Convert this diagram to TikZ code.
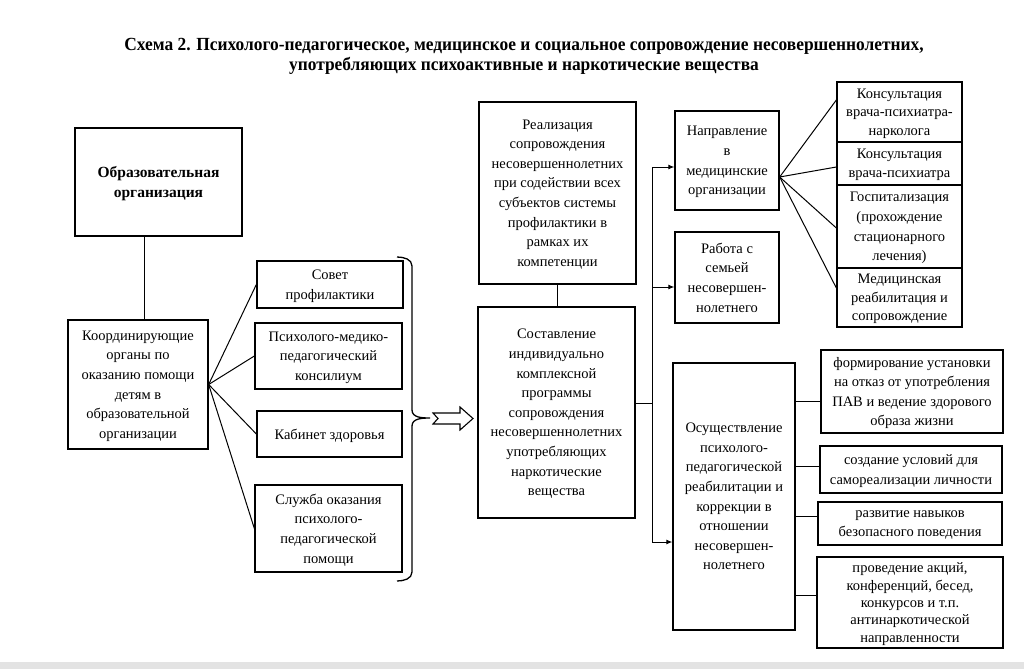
\documentclass[tikz,border=0pt]{standalone}
\usepackage{fontspec}
\setmainfont{Liberation Serif}
\newfontfamily\titlefont[FakeStretch=0.94]{Liberation Serif}
\usetikzlibrary{arrows.meta,calc}
\begin{document}
\begin{tikzpicture}[x=1pt,y=-1pt,
  box/.style={draw, line width=1.3pt, align=center, inner sep=0pt, text depth=-4pt, font=\fontsize{14.5}{19.6}\selectfont},
  link/.style={line width=1pt},
  arr/.style={line width=1pt,-{Latex[length=6pt,width=5pt]}}]
\fill[white] (0,0) rectangle (1024,669);
\fill[gray!22] (0,662) rectangle (1024,669);
\useasboundingbox (0,0) rectangle (1024,669);

\node[font=\titlefont\bfseries\fontsize{18.5}{19.5}\selectfont, align=center] (title) at (524,56.5)
 {Схема 2. Психолого-педагогическое, медицинское и социальное сопровождение несовершеннолетних,\\
  употребляющих психоактивные и наркотические вещества};

% left
\node[box, minimum width=167pt, minimum height=108pt, font=\bfseries\fontsize{15.5}{20}\selectfont] (org) at (158.5,182) {Образовательная\\организация};
\node[box, minimum width=140pt, minimum height=129pt] (coord) at (138,384.5) {Координирующие\\органы по\\оказанию помощи\\детям в\\образовательной\\организации};
\node[box, minimum width=146pt, minimum height=47pt] (sovet) at (330,284.5) {Совет\\профилактики};
\node[box, minimum width=147pt, minimum height=66pt] (pmpk) at (328.5,356) {Психолого-медико-\\педагогический\\консилиум};
\node[box, minimum width=145pt, minimum height=46pt] (kab) at (329.5,434) {Кабинет здоровья};
\node[box, minimum width=147pt, minimum height=87pt] (sluzh) at (328.5,528.5) {Служба оказания\\психолого-\\педагогической\\помощи};

% middle
\node[box, minimum width=157pt, minimum height=182pt] (real) at (557.5,193) {Реализация\\сопровождения\\несовершеннолетних\\при содействии всех\\субъектов системы\\профилактики в\\рамках их\\компетенции};
\node[box, minimum width=157pt, minimum height=211pt] (sost) at (556.5,412.5) {Составление\\индивидуально\\комплексной\\программы\\сопровождения\\несовершеннолетних\\употребляющих\\наркотические\\вещества};

% right column 1
\node[box, minimum width=104pt, minimum height=99pt] (napr) at (727,160.5) {Направление\\в\\медицинские\\организации};
\node[box, minimum width=104pt, minimum height=91pt] (rab) at (727,277.5) {Работа с\\семьей\\несовершен-\\нолетнего};
\node[box, minimum width=122pt, minimum height=267pt] (osu) at (734,496.5) {Осуществление\\психолого-\\педагогической\\реабилитации и\\коррекции в\\отношении\\несовершен-\\нолетнего};

% medical
\node[box, minimum width=125pt, minimum height=60pt, font=\fontsize{14.5}{18.5}\selectfont] (k1) at (899.5,112) {Консультация\\врача-психиатра-\\нарколога};
\node[box, minimum width=125pt, minimum height=43pt, font=\fontsize{14.5}{19}\selectfont] (k2) at (899.5,163.5) {Консультация\\врача-психиатра};
\node[box, minimum width=125pt, minimum height=83pt] (k3) at (899.5,226.5) {Госпитализация\\(прохождение\\стационарного\\лечения)};
\node[box, minimum width=125pt, minimum height=59pt, font=\fontsize{14.5}{18.5}\selectfont] (k4) at (899.5,297.5) {Медицинская\\реабилитация и\\сопровождение};

% rehab
\node[box, minimum width=182pt, minimum height=83pt] (f1) at (912,391.5) {формирование установки\\на отказ от употребления\\ПАВ и ведение здорового\\образа жизни};
\node[box, minimum width=182pt, minimum height=47pt] (f2) at (911,469.5) {создание условий для\\самореализации личности};
\node[box, minimum width=184pt, minimum height=43pt, font=\fontsize{14.5}{19}\selectfont] (f3) at (910,523.5) {развитие навыков\\безопасного поведения};
\node[box, minimum width=186pt, minimum height=91pt, font=\fontsize{14.5}{17.3}\selectfont] (f4) at (910,602.5) {проведение акций,\\конференций, бесед,\\конкурсов и т.п.\\антинаркотической\\направленности};

% connectors left
\coordinate (c1) at ($(coord.north)+(6,0)$);
\draw[link] (c1) -- (c1 |- org.south);
\draw[link] (coord.east) -- (sovet.west);
\draw[link] (coord.east) -- (pmpk.west);
\draw[link] (coord.east) -- (kab.west);
\draw[link] (coord.east) -- (sluzh.west);

% brace
\draw[line width=1.3pt] (397,257) to[out=0,in=90] (412,266) -- (412,410) to[out=-90,in=180] (430,418)
  to[out=180,in=90] (412,426) -- (412,572) to[out=-90,in=0] (397,581);
% double arrow
\draw[line width=1.1pt, line join=miter] (433,413) -- (460,413) -- (460,407) -- (473,418.5) -- (460,430) -- (460,424) -- (433,424) -- (438,418.5) -- cycle;

% middle
\draw[link] (real.south) -- (real.south |- sost.north);

% bus
\coordinate (b0) at ($(sost.east)+(0,-9.5)$);
\coordinate (t1) at ($(napr.west)+(0,6.5)$);
\coordinate (t2) at ($(rab.west)+(0,9.5)$);
\coordinate (t3) at ($(osu.west)+(0,45.5)$);
\coordinate (bus) at (652,0);
\draw[link] (b0) -- (b0 -| bus);
\draw[link] (bus |- t1) -- (bus |- t3);
\draw[arr] (bus |- t1) -- (t1);
\draw[arr] (bus |- t2) -- (t2);
\draw[arr] (bus |- t3) -- (t3);

% medical fan
\coordinate (nj) at ($(napr.east)+(0,16.5)$);
\draw[link] (nj) -- ($(k1.west)+(0,-12)$);
\draw[link] (nj) -- ($(k2.west)+(0,3.5)$);
\draw[link] (nj) -- ($(k3.west)+(0,1.5)$);
\draw[link] (nj) -- ($(k4.west)+(0,-9.5)$);

% rehab links
\coordinate (a1) at ($(f1.west)+(0,9.5)$);
\coordinate (a2) at ($(f2.west)+(0,-3.5)$);
\coordinate (a3) at ($(f3.west)+(0,-7.5)$);
\coordinate (a4) at ($(f4.west)+(0,-7.5)$);
\draw[link] (a1 -| osu.east) -- (a1);
\draw[link] (a2 -| osu.east) -- (a2);
\draw[link] (a3 -| osu.east) -- (a3);
\draw[link] (a4 -| osu.east) -- (a4);
\end{tikzpicture}
\end{document}
